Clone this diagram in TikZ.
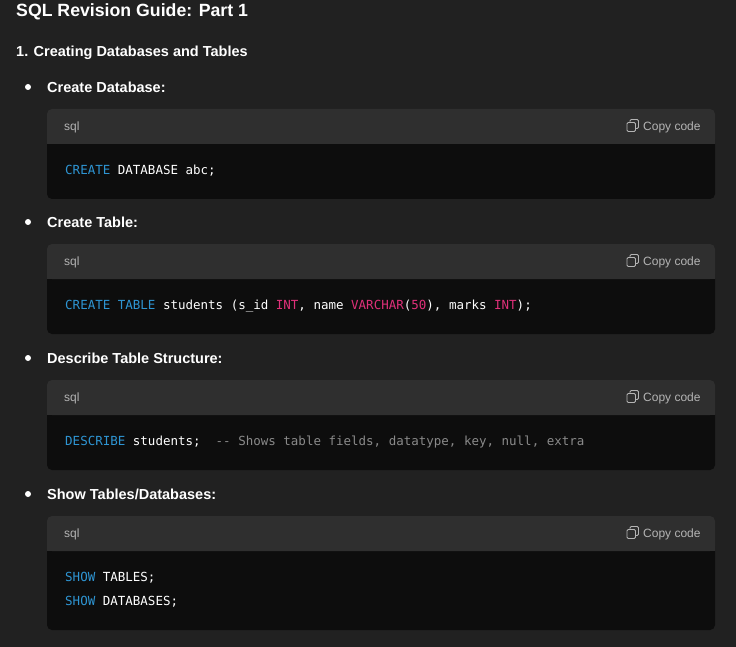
\documentclass[tikz,border=0pt]{standalone}
\usepackage{fontspec}
\setmainfont{Liberation Sans}
\newfontfamily\codefont{DejaVu Sans Mono}
\definecolor{bg}{HTML}{212121}
\definecolor{hdr}{HTML}{2F2F2F}
\definecolor{body}{HTML}{0D0D0D}
\definecolor{kw}{HTML}{2E95D3}
\definecolor{ty}{HTML}{DF3079}
\definecolor{cm}{HTML}{8A8A8A}
\definecolor{lab}{HTML}{B4B4B4}
\newcommand{\K}[1]{\textcolor{kw}{#1}}
\newcommand{\T}[1]{\textcolor{ty}{#1}}
\begin{document}
\begin{tikzpicture}[x=1pt,y=-1pt,
  txt/.style={anchor=west,inner sep=0pt,text=white},
  code/.style={anchor=west,inner sep=0pt,text=white,font=\codefont\fontsize{12.5}{14}\selectfont},
  small/.style={anchor=west,inner sep=0pt,text=lab,font=\fontsize{12}{14}\selectfont},
  bullet/.style={anchor=west,inner sep=0pt,text=white,font=\bfseries\fontsize{14.5}{17}\selectfont}]
\fill[bg] (0,0) rectangle (736,647);
\useasboundingbox (0,0) rectangle (736,647);
\node[txt,font=\bfseries\fontsize{17.7}{21}\selectfont] (title) at (16,12) {SQL Revision Guide: Part 1};
\node[txt,font=\bfseries\fontsize{14.5}{17}\selectfont] (h1) at (16,53) {1. Creating Databases and Tables};
\newcommand{\codebox}[4]{% top, split, bottom, name
  \fill[body,rounded corners=5pt] (47,#2-5) rectangle (715,#3);
  \fill[hdr,rounded corners=5pt] (47,#1) rectangle (715,#2);
  \fill[hdr] (47,#2-5) rectangle (715,#2);
  \node[small] (#4s) at (64,#1+18) {sql};
  \node[small] (#4c) at (643,#1+18) {Copy code};
  \draw[lab,line width=0.9pt,rounded corners=1.2pt] (627,#1+13.5) rectangle (635.5,#1+22.5);
  \draw[lab,line width=0.9pt,rounded corners=1.2pt] (630,#1+13.5) -- (630,#1+10.5) -- (638.5,#1+10.5) -- (638.5,#1+19.5) -- (635.5,#1+19.5);
}
\fill[white] (28,87) circle (3);
\node[bullet] (b1) at (47,87) {Create Database:};
\codebox{109}{144}{199}{c1}
\node[code] (l1) at (65,171) {\K{CREATE} DATABASE abc;};
\fill[white] (28,222) circle (3);
\node[bullet] (b2) at (47,222) {Create Table:};
\codebox{244}{279}{334}{c2}
\node[code] (l2) at (65,306) {\K{CREATE} \K{TABLE} students (s\_id \T{INT}, name \T{VARCHAR}(\T{50}), marks \T{INT});};
\fill[white] (28,358) circle (3);
\node[bullet] (b3) at (47,358) {Describe Table Structure:};
\codebox{380}{415}{470}{c3}
\node[code] (l3) at (65,442) {\K{DESCRIBE} students;\ \ \textcolor{cm}{-{}- Shows table fields, datatype, key, null, extra}};
\fill[white] (28,494) circle (3);
\node[bullet] (b4) at (47,494) {Show Tables/Databases:};
\codebox{516}{551}{630}{c4}
\node[code] (l4) at (65,578) {\K{SHOW} TABLES;};
\node[code] (l5) at (65,602) {\K{SHOW} DATABASES;};
\end{tikzpicture}
\end{document}
